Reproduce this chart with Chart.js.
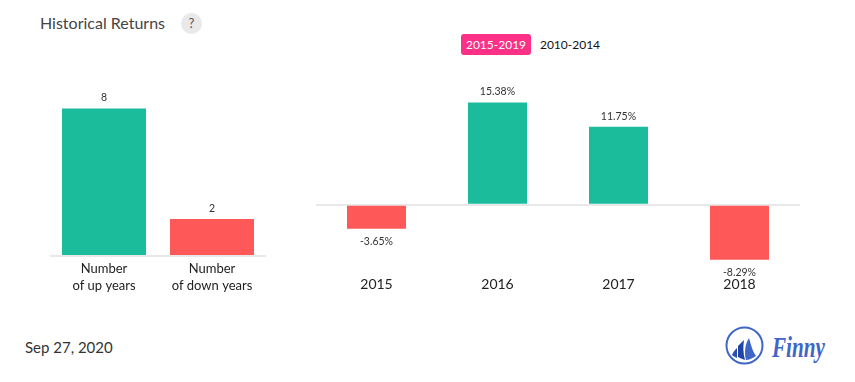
<!DOCTYPE html>
<html>
<head>
<meta charset="utf-8">
<script src="https://cdn.jsdelivr.net/npm/chart.js@4"></script>
<style>
  html, body { margin: 0; padding: 0; background: #fff; }
  body { width: 855px; height: 382px; position: relative; overflow: hidden; font-family: Lato, sans-serif; }
  canvas { position: absolute; }
  .abs { position: absolute; white-space: nowrap; }
  #title { left: 40px; top: 13px; font-size: 16px; line-height: 20px; color: #444; }
  #help { left: 181px; top: 13px; width: 21px; height: 21px; border-radius: 50%; background: #e9e9e9; color: #555; font-size: 13px; line-height: 21px; text-align: center; }
  .period { top: 34px; height: 21px; line-height: 21px; font-size: 12px; text-align: center; border-radius: 3px; }
  #p1 { left: 461px; width: 70px; background: #fb3187; color: #fff; }
  #p2 { left: 535px; width: 70px; color: #111; }
  #date { left: 25px; top: 337px; font-size: 15px; line-height: 20px; color: #333; }
  #logo { left: 722px; top: 323px; }
  #brand { left: 772px; top: 331px; font-family: "Liberation Serif", serif; font-style: italic; font-weight: bold; font-size: 29px; line-height: 32px; color: #3f66c7; transform: scaleX(.73); transform-origin: left center; }
</style>
</head>
<body>
<div class="abs" id="title">Historical Returns</div>
<div class="abs" id="help">?</div>
<div class="abs period" id="p1">2015-2019</div>
<div class="abs period" id="p2">2010-2014</div>
<canvas id="years-chart" width="216" height="241" style="left:50px;top:60px;width:216px;height:241px"></canvas>
<canvas id="returns-chart" width="484" height="241" style="left:316px;top:60px;width:484px;height:241px"></canvas>
<div class="abs" id="date">Sep 27, 2020</div>
<svg class="abs" id="logo" width="46" height="46" viewBox="0 0 46 46">
  <circle cx="22.5" cy="22.5" r="18" fill="none" stroke="#3f66c7" stroke-width="2"/>
  <path d="M10 32 C11 29 13 27 15 25 L15 35 C13 34 11 33 10 32 Z" fill="#2c4fb0"/>
  <path d="M16 34 L16 23 C18 21 20 19 22 17 C21 23 21 30 23 37 C20 36 18 35 16 34 Z" fill="#1f45a8"/>
  <path d="M24 37 C22 30 23 21 27 15 C29 22 31 29 34 33 C31 35 27 37 24 37 Z" fill="#3f66c7"/>
</svg>
<div class="abs" id="brand">Finny</div>

<script>
// Up / down year counts
const yearLabels = [['Number', 'of up years'], ['Number', 'of down years']];
const yearCounts = [8, 2];

// Yearly returns in percent, 2015-2019 tab
const returnYears = ['2015', '2016', '2017', '2018'];
const returnValues = [-3.65, 15.38, 11.75, -8.29];

const GREEN = '#1abc9c';
const RED = '#ff5858';
const LINE = '#e8e8e8';

// Writes the value above or below each bar
function valueLabels(format) {
  return {
    id: 'valueLabels',
    afterDatasetsDraw(chart) {
      const ctx = chart.ctx;
      const values = chart.data.datasets[0].data;
      ctx.save();
      ctx.font = '10.5px Lato';
      ctx.fillStyle = '#333';
      ctx.textAlign = 'center';
      ctx.textBaseline = 'middle';
      chart.getDatasetMeta(0).data.forEach((bar, i) => {
        const y = values[i] < 0 ? bar.y + 13 : bar.y - 10.5;
        ctx.fillText(format(values[i]), bar.x, y);
      });
      ctx.restore();
    }
  };
}

function setupBars(canvasId, labels, values, colors, barPercentage, opts) {
  return new Chart(document.getElementById(canvasId), {
    type: 'bar',
    data: {
      labels: labels,
      datasets: [{
        data: values,
        backgroundColor: colors,
        barPercentage: barPercentage,
        categoryPercentage: 1
      }]
    },
    options: {
      responsive: false,
      animation: false,
      devicePixelRatio: 1,
      layout: { padding: { top: opts.paddingTop } },
      plugins: { legend: { display: false }, tooltip: { enabled: false } },
      scales: {
        x: {
          afterFit: scale => { scale.height = opts.axisHeight; },
          grid: { display: false, drawTicks: false },
          border: { display: opts.showAxisLine, color: LINE, width: 2 },
          ticks: { padding: opts.tickPadding, color: '#222', font: { family: 'Lato', size: opts.tickSize, lineHeight: opts.tickLine }, maxRotation: 0, autoSkip: false }
        },
        y: {
          min: opts.min,
          max: opts.max,
          afterFit: scale => { scale.width = 0; },
          border: { display: false },
          ticks: { display: false, stepSize: 5 },
          grid: {
            drawTicks: false,
            lineWidth: 2,
            color: c => (opts.zeroLine && c.tick.value === 0 ? LINE : 'transparent')
          }
        }
      }
    },
    plugins: [valueLabels(opts.format)]
  });
}

setupBars('years-chart', yearLabels, yearCounts, [GREEN, RED], 84 / 108, {
  min: 0, max: 10, paddingTop: 11.5, axisHeight: 45, tickPadding: 4, tickSize: 13, tickLine: '17px',
  showAxisLine: true, zeroLine: false, format: v => String(v)
});

setupBars('returns-chart', returnYears, returnValues, returnValues.map(v => (v < 0 ? RED : GREEN)), 59 / 121, {
  min: -10, max: 20, paddingTop: 11.9, axisHeight: 30, tickPadding: 5, tickSize: 14, tickLine: 1.2,
  showAxisLine: false, zeroLine: true, format: v => v.toFixed(2) + '%'
});
</script>
</body>
</html>
